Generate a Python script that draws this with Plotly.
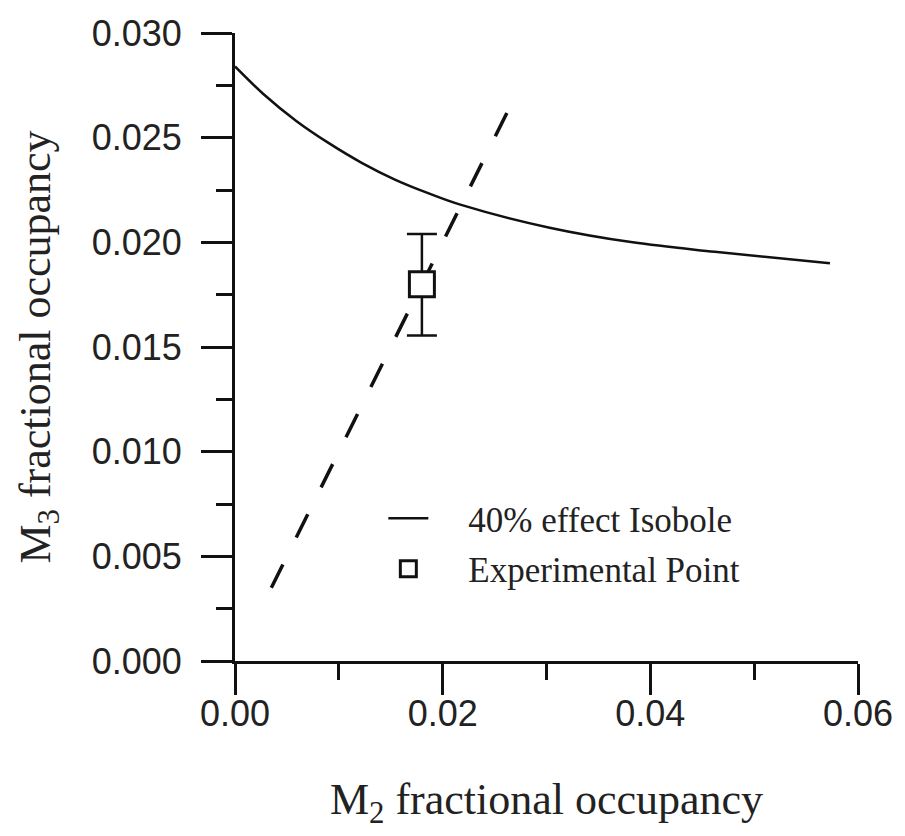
import plotly.graph_objects as go

# 40% effect isobole (solid curve)
iso_x = [0.0, 0.0027, 0.0059, 0.0090, 0.0122, 0.0154, 0.0186, 0.0217, 0.0303, 0.0383, 0.0462, 0.0573]
iso_y = [0.0284, 0.0271, 0.0258, 0.02475, 0.0238, 0.0230, 0.02235, 0.0218, 0.0207, 0.0200, 0.01955, 0.0190]

# dashed reference line
ref_x = [0.0035, 0.0265]
ref_y = [0.0035, 0.0265]

# experimental point with error bar
exp_x = [0.0180]
exp_y = [0.0180]
exp_err_plus = [0.0024]
exp_err_minus = [0.00245]

x_ticks = [0.00, 0.02, 0.04, 0.06]
y_ticks = [0.000, 0.005, 0.010, 0.015, 0.020, 0.025, 0.030]

SERIF = "Liberation Serif, Times New Roman, serif"
SANS = "Liberation Sans, Arial, sans-serif"
INK = "#111111"
PAD = "\u00a0" * 4

fig = go.Figure()

fig.add_trace(go.Scatter(
    x=ref_x, y=ref_y, mode="lines", showlegend=False,
    line=dict(color=INK, width=3.5, dash="26px,30px"),
    hoverinfo="skip",
))

fig.add_trace(go.Scatter(
    x=iso_x, y=iso_y, mode="lines", name=PAD + "40% effect Isobole",
    line=dict(color=INK, width=2.5, shape="spline", smoothing=1.0),
    legendgroup="a",
))

fig.add_trace(go.Scatter(
    x=exp_x, y=exp_y, mode="markers", name=PAD + "Experimental Point",
    marker=dict(symbol="square", size=25, color="white",
                line=dict(color=INK, width=3)),
    error_y=dict(type="data", array=exp_err_plus, arrayminus=exp_err_minus,
                 visible=True, color=INK, thickness=2.5, width=15),
    legendgroup="b",
))

axis_common = dict(
    showline=True, linewidth=3, linecolor=INK, mirror=False,
    showgrid=False, zeroline=False,
    ticks="outside", ticklen=31, tickwidth=3, tickcolor=INK,
    tickfont=dict(family=SANS, size=36, color="#222222"),
)

fig.update_layout(
    width=905, height=836,
    margin=dict(l=235, r=40, t=33, b=175),
    paper_bgcolor="white", plot_bgcolor="white",
    xaxis=dict(
        range=[0, 0.06], tickvals=x_ticks,
        ticktext=[f"{v:.2f}" for v in x_ticks],
        ticklabelstandoff=-12,
        minor=dict(dtick=0.01, tick0=0, ticks="outside", ticklen=16,
                   tickwidth=3, tickcolor=INK, showgrid=False),
        title=dict(text="M<sub>2</sub> fractional occupancy",
                   font=dict(family=SERIF, size=44, color="#222222"),
                   standoff=50),
        **axis_common,
    ),
    yaxis=dict(
        range=[0, 0.03], tickvals=y_ticks,
        ticktext=[f"{v:.3f}" for v in y_ticks],
        ticklabelstandoff=12,
        minor=dict(dtick=0.0025, tick0=0, ticks="outside", ticklen=16,
                   tickwidth=3, tickcolor=INK, showgrid=False),
        title=dict(text="M<sub>3</sub> fractional occupancy",
                   font=dict(family=SERIF, size=44, color="#222222"),
                   standoff=28),
        **axis_common,
    ),
    legend=dict(
        x=(385 - 235) / 630, y=0.274, xanchor="left", yanchor="top",
        bgcolor="rgba(0,0,0,0)", borderwidth=0,
        font=dict(family=SERIF, size=35, color="#222222"),
        itemwidth=40, tracegroupgap=2,
        itemsizing="trace",
    ),
    showlegend=True,
)

fig.write_html("out.html")
